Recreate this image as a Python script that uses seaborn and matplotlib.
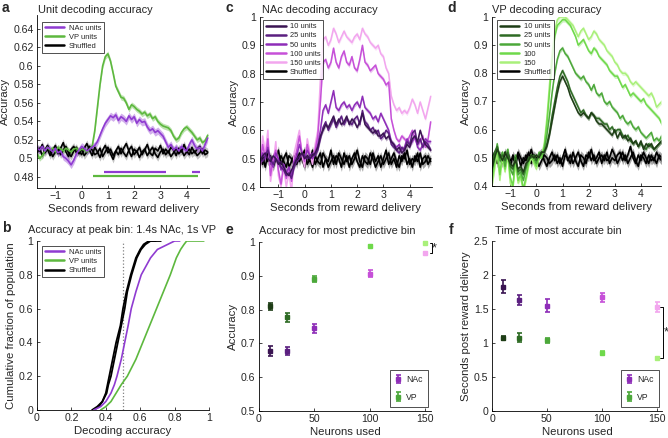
import numpy as np
import pandas as pd
import seaborn as sns
import matplotlib
matplotlib.use("Agg")
import matplotlib.pyplot as plt
from matplotlib.lines import Line2D
from matplotlib.ticker import FuncFormatter

# Datos
time_s = np.round(np.arange(-1.7, 4.85, 0.1), 1)

# Panel a: precision por unidad
nac_a = [.511, .509, .513, .508, .512, .510, .507, .511, .506, .508,
         .502, .500, .497, .493, .498, .505, .509, .513, .511, .508,
         .510, .512, .514, .518, .525, .532, .538, .542, .546, .544,
         .547, .541, .545, .543, .540, .546, .542, .545, .538, .542,
         .539, .540, .534, .530, .532, .528, .530, .527, .524, .518,
         .512, .515, .509, .512, .508, .513, .510, .508, .515, .520,
         .514, .510, .512, .508, .515, .522]
vp_a = [.505, .500, .503, .508, .512, .509, .511, .507, .512, .510,
        .508, .511, .509, .507, .510, .511, .508, .510, .509, .507,
        .510, .513, .530, .555, .580, .600, .610, .613, .605, .592,
        .578, .572, .566, .565, .560, .553, .558, .556, .553, .551,
        .548, .550, .546, .548, .543, .545, .540, .537, .535, .534,
        .533, .530, .524, .520, .522, .528, .532, .534, .531, .528,
        .524, .520, .522, .517, .519, .525]
shuf_a1 = [.512, .508, .515, .506, .510, .503, .509, .514, .505, .511,
           .517, .507, .502, .510, .513, .506, .508, .504, .511, .516,
           .509, .503, .512, .507, .501, .509, .514, .506, .510, .503,
           .508, .513, .505, .511, .516, .508, .502, .510, .507, .512,
           .504, .509, .515, .506, .503, .511, .508, .514, .505, .510,
           .506, .512, .509, .503, .511, .507, .515, .508, .504, .512,
           .506, .510, .513, .505, .509, .507]
shuf_a2 = [.506, .511, .503, .509, .514, .508, .502, .507, .511, .504,
           .509, .513, .506, .502, .508, .512, .505, .510, .503, .507,
           .513, .509, .504, .506, .511, .502, .507, .512, .505, .499,
           .508, .504, .511, .506, .502, .509, .513, .504, .508, .501,
           .507, .510, .503, .508, .512, .505, .501, .507, .510, .504,
           .508, .502, .506, .511, .505, .509, .503, .507, .510, .505,
           .508, .503, .506, .510, .504, .506]
sig_nac = [(0.85, 3.2), (4.2, 4.5)]
sig_vp = [(0.45, 4.45)]

# Panel b: distribucion acumulada
cdf_frac = [0, .02, .05, .1, .15, .2, .3, .4, .5, .6, .7, .8, .9, .95, .98, 1, 1]
cdf_shuf1 = [.32, .35, .38, .40, .41, .42, .44, .46, .485, .50, .52, .545, .575, .60, .62, .65, .72]
cdf_shuf2 = [.33, .36, .38, .405, .415, .43, .45, .47, .49, .51, .525, .55, .58, .605, .63, .66, .69]
cdf_nac = [.33, .37, .40, .43, .45, .465, .49, .51, .53, .548, .575, .606, .66, .70, .76, .80, .83]
cdf_vp = [.37, .40, .43, .46, .49, .525, .575, .615, .655, .695, .735, .775, .81, .835, .855, .87, .97]

# Panel c: NAc por numero de unidades
c_labels = ["10 units", "25 units", "50 units", "100 units", "150 units"]
c_10 = [.49, .51, .52, .50, .49, .51, .50, .48, .49, .47,
        .45, .44, .46, .48, .50, .51, .52, .50, .51, .50,
        .51, .52, .54, .58, .60, .62, .61, .63, .65, .62,
        .64, .62, .63, .65, .62, .64, .63, .61, .63, .66,
        .62, .61, .60, .59, .60, .58, .58, .59, .57, .58,
        .56, .55, .53, .54, .52, .53, .55, .54, .57, .58,
        .56, .60, .57, .55, .54, .53]
c_25 = [.50, .49, .51, .53, .50, .48, .50, .49, .47, .46,
        .44, .45, .43, .47, .49, .50, .52, .51, .50, .51,
        .52, .51, .53, .57, .61, .63, .60, .62, .64, .61,
        .63, .65, .62, .64, .63, .62, .64, .65, .62, .67,
        .63, .62, .60, .61, .59, .60, .57, .58, .60, .59,
        .55, .54, .53, .52, .54, .53, .56, .55, .59, .60,
        .55, .57, .54, .56, .55, .53]
c_50 = [.48, .52, .50, .54, .49, .47, .52, .50, .46, .48,
        .45, .47, .44, .49, .51, .55, .52, .50, .53, .51,
        .50, .52, .55, .60, .67, .69, .66, .70, .74, .68,
        .67, .69, .70, .68, .69, .67, .69, .70, .68, .72,
        .68, .67, .66, .64, .65, .63, .66, .64, .62, .60,
        .56, .55, .54, .55, .53, .54, .57, .55, .56, .58,
        .54, .53, .55, .57, .56, .56]
c_100 = [.47, .55, .50, .57, .44, .50, .53, .46, .41, .48,
         .43, .47, .42, .49, .53, .58, .52, .49, .55, .51,
         .50, .53, .58, .70, .84, .85, .82, .84, .89, .84,
         .82, .86, .88, .84, .83, .86, .82, .81, .85, .90,
         .84, .83, .81, .82, .83, .80, .79, .78, .76, .77,
         .64, .60, .57, .56, .58, .57, .56, .58, .60, .57,
         .55, .56, .58, .54, .57, .63]
c_150 = [.46, .58, .52, .60, .42, .48, .56, .44, .40, .47,
         .40, .45, .38, .52, .56, .60, .51, .47, .57, .52,
         .48, .55, .60, .78, .92, .93, .90, .92, .96, .94,
         .91, .93, .95, .93, .92, .91, .93, .94, .92, .96,
         .94, .93, .91, .90, .89, .90, .87, .86, .82, .80,
         .72, .69, .67, .68, .66, .67, .66, .68, .71, .69,
         .66, .70, .67, .64, .68, .72]
shuf_c1 = [.50, .48, .52, .49, .51, .47, .50, .53, .48, .50,
           .52, .47, .49, .51, .48, .52, .50, .47, .51, .49,
           .53, .48, .50, .52, .47, .50, .49, .53, .48, .51,
           .50, .47, .52, .49, .51, .48, .50, .53, .49, .47,
           .51, .50, .48, .52, .49, .51, .47, .50, .53, .48,
           .50, .52, .49, .47, .51, .50, .53, .48, .50, .49,
           .52, .47, .50, .51, .48, .50]
shuf_c2 = [.49, .51, .47, .52, .48, .50, .53, .48, .51, .49,
           .47, .51, .50, .48, .52, .49, .51, .53, .48, .50,
           .47, .51, .49, .48, .52, .50, .47, .49, .51, .48,
           .52, .50, .48, .51, .47, .50, .52, .49, .47, .51,
           .49, .48, .52, .50, .47, .49, .51, .48, .50, .52,
           .48, .50, .47, .51, .49, .52, .48, .50, .47, .51,
           .49, .52, .48, .49, .51, .49]

# Panel d: VP por numero de unidades
d_labels = ["10 units", "25 units", "50 units", "100", "150"]
d_10 = [.46, .50, .53, .51, .49, .52, .50, .48, .47, .49,
        .46, .47, .45, .48, .49, .51, .50, .51, .50, .52,
        .52, .54, .58, .63, .68, .73, .77, .79, .77, .75,
        .72, .70, .68, .66, .65, .66, .65, .64, .66, .65,
        .63, .62, .62, .61, .60, .59, .58, .60, .57, .59,
        .57, .58, .56, .57, .55, .56, .54, .56, .53, .55,
        .54, .55, .53, .54, .55, .56]
d_25 = [.48, .52, .54, .50, .51, .49, .52, .47, .46, .50,
        .45, .46, .44, .47, .50, .50, .51, .49, .51, .52,
        .52, .55, .59, .65, .70, .75, .79, .81, .79, .77,
        .74, .72, .70, .68, .66, .67, .65, .64, .66, .65,
        .64, .64, .63, .62, .62, .60, .61, .59, .60, .60,
        .58, .57, .58, .56, .55, .56, .54, .55, .54, .53,
        .55, .54, .53, .54, .55, .56]
d_50 = [.45, .50, .55, .49, .52, .47, .53, .46, .44, .51,
        .44, .45, .42, .46, .49, .51, .50, .48, .52, .51,
        .53, .58, .65, .73, .80, .85, .88, .89, .87, .86,
        .84, .82, .80, .79, .78, .79, .77, .76, .74, .76,
        .73, .72, .73, .70, .69, .70, .68, .67, .66, .64,
        .65, .63, .62, .63, .61, .60, .61, .59, .58, .57,
        .58, .59, .56, .57, .56, .58]
d_100 = [.42, .48, .54, .44, .52, .46, .53, .43, .40, .50,
         .42, .44, .39, .43, .48, .51, .49, .47, .51, .50,
         .54, .62, .73, .84, .93, .97, .98, .99, .99, .98,
         .97, .95, .93, .90, .91, .92, .90, .88, .87, .89,
         .88, .86, .85, .84, .83, .81, .80, .79, .79, .77,
         .75, .76, .74, .72, .73, .72, .71, .70, .71, .69,
         .68, .67, .66, .65, .64, .62]
d_150 = [.40, .46, .52, .42, .50, .45, .51, .41, .39, .48,
         .41, .43, .38, .42, .47, .50, .48, .46, .50, .51,
         .55, .64, .76, .87, .95, .99, 1.0, 1.0, 1.0, .99,
         .98, .97, .95, .93, .95, .96, .94, .92, .93, .95,
         .94, .92, .91, .90, .88, .87, .86, .84, .83, .81,
         .80, .80, .79, .77, .76, .77, .76, .75, .74, .73,
         .72, .73, .71, .68, .69, .70]
shuf_d1 = [.51, .49, .53, .50, .48, .52, .50, .47, .51, .49,
           .52, .50, .48, .51, .49, .53, .50, .48, .51, .52,
           .49, .47, .50, .52, .49, .51, .48, .50, .53, .49,
           .51, .48, .50, .52, .49, .47, .51, .50, .53, .49,
           .50, .52, .48, .51, .49, .50, .53, .51, .48, .50,
           .52, .49, .51, .54, .50, .48, .51, .49, .52, .50,
           .48, .51, .49, .52, .50, .49]
shuf_d2 = [.49, .52, .48, .51, .50, .47, .52, .49, .50, .48,
           .51, .47, .50, .49, .52, .48, .51, .50, .47, .49,
           .51, .50, .48, .49, .51, .48, .50, .47, .51, .50,
           .48, .52, .49, .47, .51, .50, .48, .52, .49, .51,
           .48, .50, .51, .49, .52, .48, .50, .49, .51, .52,
           .49, .51, .48, .50, .52, .49, .47, .51, .50, .48,
           .51, .49, .50, .48, .51, .50]

# Paneles e y f
units = [10, 25, 50, 100, 150]
e_nac_acc = [0.678, 0.678, 0.745, 0.906, 0.966]
e_nac_err = [0.015, 0.012, 0.013, 0.011, 0.004]
e_vp_acc = [0.810, 0.777, 0.890, 0.988, 0.997]
e_vp_err = [0.011, 0.013, 0.008, 0.003, 0.002]
f_nac_t = [1.83, 1.63, 1.55, 1.67, 1.53]
f_nac_err = [0.09, 0.07, 0.10, 0.07, 0.07]
f_vp_t = [1.07, 1.08, 1.04, 0.86, 0.78]
f_vp_err = [0.03, 0.07, 0.04, 0.02, 0.02]

# Colores
nac_col = "#8F3BD1"
vp_col = "#5DB83E"
nac_cols = ["#3A1452", "#5B1F80", "#8E2DB8", "#C650D8", "#F2A6EE"]
vp_cols = ["#1E3D16", "#2E6B24", "#4CA83A", "#6FD94B", "#A9F07A"]

sns.set_style("ticks")
plt.rcParams["font.family"] = ["Liberation Sans", "DejaVu Sans"]
plt.rcParams.update({
    "font.size": 7.5, "axes.labelsize": 8.2, "xtick.labelsize": 7.6, "ytick.labelsize": 7.6,
    "xtick.direction": "in", "ytick.direction": "in",
    "xtick.major.size": 2.5, "ytick.major.size": 2.5,
    "xtick.major.width": 0.6, "ytick.major.width": 0.6,
    "axes.linewidth": 0.6, "axes.edgecolor": "black",
    "xtick.major.pad": 2.5, "ytick.major.pad": 2.5, "axes.labelpad": 2,
})

W, H = 668, 438
fig = plt.figure(figsize=(W / 100, H / 100), dpi=100)


def box(l, t, r, b):
    return [l / W, 1 - b / H, (r - l) / W, (b - t) / H]


def ftext(x, y, s, **kw):
    fig.text(x / W, 1 - y / H, s, va="center", **kw)


fmt = FuncFormatter(lambda v, p: "{:g}".format(round(v, 3)).replace("-", "\u2212"))


def band(ax, y, sem, col, fill, lw=1.2, alpha=0.45):
    y = np.array(y)
    ax.fill_between(time_s, y - sem, y + sem, color=fill, alpha=alpha, lw=0)
    sns.lineplot(x=time_s, y=y, ax=ax, color=col, lw=lw)


def leg(ax, labels, cols, anchor, lw=1.8):
    hs = [Line2D([], [], color=c, lw=lw) for c in cols]
    lg = ax.legend(hs, labels, loc="upper left", bbox_to_anchor=anchor, fontsize=5.4,
                   frameon=True, fancybox=False, edgecolor="black", handlelength=2.6,
                   borderpad=0.35, labelspacing=0.25, handletextpad=0.6, borderaxespad=0)
    lg.get_frame().set_linewidth(0.6)


# ---- Panel a
ax = fig.add_axes(box(37, 15, 209, 188))
for s in [shuf_a1, shuf_a2]:
    band(ax, s, 0.004, "black", "gray")
band(ax, vp_a, 0.003, vp_col, vp_col, alpha=0.4)
band(ax, nac_a, 0.004, nac_col, nac_col, alpha=0.4)
for x0, x1 in sig_nac:
    ax.plot([x0, x1], [0.4853, 0.4853], color=nac_col, lw=1.6, solid_capstyle="butt")
for x0, x1 in sig_vp:
    ax.plot([x0, x1], [0.4813, 0.4813], color=vp_col, lw=1.6, solid_capstyle="butt")
ax.set_xlim(-1.7, 4.85)
ax.set_ylim(0.468, 0.655)
ax.set_yticks(np.arange(0.48, 0.641, 0.02))
ax.set_xticks(range(-1, 5))
ax.set_xlabel("Seconds from reward delivery")
ax.set_ylabel("Accuracy")
leg(ax, ["NAc units", "VP units", "Shuffled"], [nac_col, vp_col, "black"], (0.03, 0.96))
ax_a = ax

# ---- Panel c
ax = fig.add_axes(box(260, 17, 432, 187))
for s in [shuf_c1, shuf_c2]:
    band(ax, s, 0.015, "black", "#555555", alpha=0.5)
for y, c in zip([c_150, c_100, c_50, c_25, c_10], nac_cols[::-1]):
    band(ax, y, 0.008, c, c, lw=1.1, alpha=0.35)
ax.set_xlim(-1.7, 4.85)
ax.set_ylim(0.4, 1.0)
ax.set_xticks(range(-1, 5))
ax.set_xlabel("Seconds from reward delivery")
ax.set_ylabel("Accuracy")
leg(ax, c_labels + ["Shuffled"], nac_cols + ["black"], (0.02, 0.98))
ax_c = ax

# ---- Panel d
ax = fig.add_axes(box(492, 17, 661, 186))
for s in [shuf_d1, shuf_d2]:
    band(ax, s, 0.015, "black", "#555555", alpha=0.5)
for y, c in zip([d_150, d_100, d_50, d_25, d_10], vp_cols[::-1]):
    band(ax, y, 0.008, c, c, lw=1.1, alpha=0.35)
ax.set_xlim(-1.7, 4.77)
ax.set_ylim(0.4, 1.0)
ax.set_xticks(range(-1, 5))
ax.set_xlabel("Seconds from reward delivery")
ax.set_ylabel("Accuracy")
leg(ax, d_labels + ["Shuffled"], vp_cols + ["black"], (0.03, 0.98))
ax_d = ax

# ---- Panel b
ax = fig.add_axes(box(37, 241, 209, 410))
ax.axvline(0.5, color="gray", ls=":", lw=0.9)
for xs in [cdf_shuf1, cdf_shuf2]:
    sns.lineplot(x=xs, y=cdf_frac, ax=ax, color="black", lw=1.3, sort=False)
sns.lineplot(x=cdf_vp, y=cdf_frac, ax=ax, color=vp_col, lw=1.2, sort=False)
sns.lineplot(x=cdf_nac, y=cdf_frac, ax=ax, color=nac_col, lw=1.2, sort=False)
ax.set_xlim(0, 1)
ax.set_ylim(0, 1)
ax.set_xticks(np.arange(0, 1.01, 0.2))
ax.set_yticks(np.arange(0, 1.01, 0.2))
ax.set_xlabel("Decoding accuracy")
ax.set_ylabel("Cumulative fraction of population")
leg(ax, ["NAc units", "VP units", "Shuffled"], [nac_col, vp_col, "black"], (0.03, 0.97))
ax_b = ax


def errs(ax, ys, es, cols):
    for u, y, e, c in zip(units, ys, es, cols):
        ax.errorbar(u, y, yerr=e, fmt="s", color=c, ms=2.2, elinewidth=1.2,
                    capsize=1.8, capthick=1.2, clip_on=False)


def eleg(ax):
    h1 = ax.errorbar([np.nan], [np.nan], yerr=[1], fmt="s", color=nac_cols[2], ms=2.2,
                     elinewidth=1.2, capsize=1.8, capthick=1.2)
    h2 = ax.errorbar([np.nan], [np.nan], yerr=[1], fmt="s", color=vp_cols[2], ms=2.2,
                     elinewidth=1.2, capsize=1.8, capthick=1.2)
    lg = ax.legend([h1, h2], ["NAc", "VP"], loc="lower right", bbox_to_anchor=(0.98, 0.025),
                   fontsize=6.2, frameon=True, fancybox=False, edgecolor="black",
                   handlelength=0.8, borderpad=0.6, labelspacing=1.0, handletextpad=0.5,
                   borderaxespad=0)
    lg.get_frame().set_linewidth(0.6)


# ---- Panel e
ax = fig.add_axes(box(259, 242, 431, 411))
errs(ax, e_nac_acc, e_nac_err, nac_cols)
errs(ax, e_vp_acc, e_vp_err, vp_cols)
ax.set_xlim(0, 155)
ax.set_ylim(0.5, 1.0)
ax.set_xticks([0, 50, 100, 150])
ax.set_yticks(np.arange(0.5, 1.01, 0.1))
ax.set_xlabel("Neurons used")
ax.set_ylabel("Accuracy")
ax.plot([154, 155.5, 155.5, 154], [0.997, 0.997, 0.966, 0.966], color="black", lw=0.7, clip_on=False)
ax.text(157.5, 0.981, "*", fontsize=9, ha="center", va="center", clip_on=False)
eleg(ax)
ax_e = ax

# ---- Panel f
ax = fig.add_axes(box(492, 241, 662, 411))
errs(ax, f_nac_t, f_nac_err, nac_cols)
errs(ax, f_vp_t, f_vp_err, vp_cols)
ax.set_xlim(0, 155)
ax.set_ylim(0, 2.5)
ax.set_xticks([0, 50, 100, 150])
ax.set_yticks(np.arange(0, 2.51, 0.5))
ax.set_xlabel("Neurons used")
ax.set_ylabel("Seconds post reward delivery")
ax.plot([153.5, 156, 156, 153.5], [1.53, 1.53, 0.78, 0.78], color="black", lw=0.7, clip_on=False)
ax.text(159, 1.16, "*", fontsize=9, ha="center", va="center", clip_on=False,
        bbox=dict(fc="white", ec="none", pad=0.3))
eleg(ax)
ax_f = ax

for ax in [ax_a, ax_b, ax_c, ax_d, ax_e, ax_f]:
    sns.despine(ax=ax)
    ax.xaxis.set_major_formatter(fmt)
    ax.yaxis.set_major_formatter(fmt)

# Titulos y letras de panel
ftext(38, 10, "Unit decoding accuracy", fontsize=7.9)
ftext(262, 10, "NAc decoding accuracy", fontsize=7.9)
ftext(492, 10, "VP decoding accuracy", fontsize=7.9)
ftext(122, 230, "Accuracy at peak bin: 1.4s NAc, 1s VP", fontsize=7.9, ha="center")
ftext(259, 231, "Accuracy for most predictive bin", fontsize=7.9)
ftext(495, 231, "Time of most accurate bin", fontsize=7.9)
for x, y, s in [(2, 8, "a"), (226, 8, "c"), (447, 8, "d"), (2, 228, "b"), (226, 230, "e"), (449, 230, "f")]:
    ftext(x, y, s, fontsize=10, fontweight="bold")

fig.savefig("out.png", dpi=100)
